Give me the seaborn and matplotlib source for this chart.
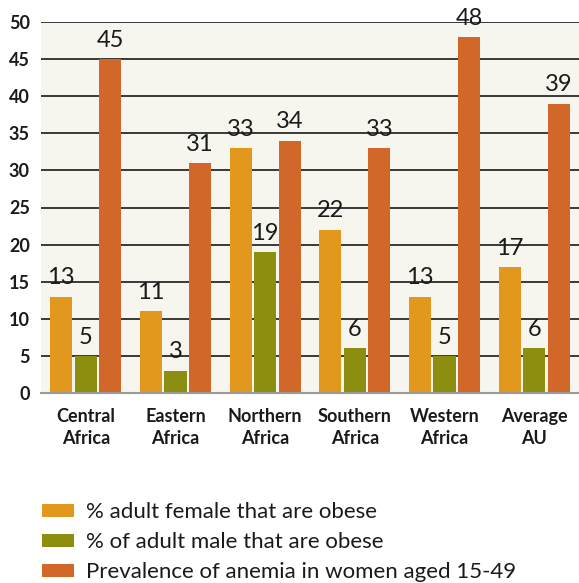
import matplotlib
matplotlib.use("Agg")
import matplotlib.pyplot as plt
import seaborn as sns
import pandas as pd
from matplotlib.patches import Patch

regions = ["Central\nAfrica", "Eastern\nAfrica", "Northern\nAfrica", "Southern\nAfrica", "Western\nAfrica", "Average\nAU"]
series_names = ["% adult female that are obese", "% of adult male that are obese", "Prevalence of anemia in women aged 15-49"]
female_obese = [13, 11, 33, 22, 13, 17]
male_obese = [5, 3, 19, 6, 5, 6]
anemia = [45, 31, 34, 33, 48, 39]
yticks = [0, 5, 10, 15, 20, 25, 30, 35, 40, 45, 50]

colors = ["#E2981C", "#8C8E0F", "#D2672A"]

rows = []
for vals, name in zip([female_obese, male_obese, anemia], series_names):
    for r, v in zip(regions, vals):
        rows.append({"region": r, "series": name, "value": v})
df = pd.DataFrame(rows)

sns.set_theme(style="white")
plt.rcParams["font.family"] = ["Lato", "DejaVu Sans"]

fig = plt.figure(figsize=(5.79, 5.83), dpi=100)
ax = fig.add_axes([41 / 579, 1 - 393 / 583, 1 - 41 / 579, (393 - 22) / 583])
ax.set_facecolor("#F7F6EE")

sns.barplot(data=df, x="region", y="value", hue="series", palette=colors,
            width=0.82, gap=0.1, ax=ax, legend=False, zorder=3, saturation=1,
            linewidth=0, edgecolor="none")

ax.set_ylim(0, 50)
ax.set_xlim(-0.5, 5.5)
ax.set_yticks(yticks)
ax.yaxis.grid(True, color="#2a2a2a", linewidth=1.3, zorder=0)
ax.set_axisbelow(True)
for s in ["top", "right", "left"]:
    ax.spines[s].set_visible(False)
ax.spines["bottom"].set_color("#9a9a9a")
ax.spines["bottom"].set_linewidth(1.5)
ax.spines["bottom"].set_zorder(4)
ax.set_xlabel("")
ax.set_ylabel("")
ax.tick_params(axis="y", length=0, pad=8, labelsize=13)
ax.tick_params(axis="x", length=0, pad=11, labelsize=13)
for lab in ax.get_yticklabels() + ax.get_xticklabels():
    lab.set_fontweight("bold")
    lab.set_color("#1a1a1a")
for lab in ax.get_xticklabels():
    lab.set_linespacing(1.35)

for cont in ax.containers:
    ax.bar_label(cont, labels=[f"{int(v.get_height())}" for v in cont], padding=6,
                 fontsize=17, color="#1a1a1a")

handles = [Patch(facecolor=c, edgecolor="none", label=n) for c, n in zip(colors, series_names)]
fig.legend(handles=handles, loc="lower left", bbox_to_anchor=(0.038, -0.033), frameon=False,
           fontsize=16, handlelength=1.44, handleheight=0.54, handletextpad=0.55,
           labelspacing=0.45, labelcolor="#1a1a1a")

fig.savefig("out.png", dpi=100)
